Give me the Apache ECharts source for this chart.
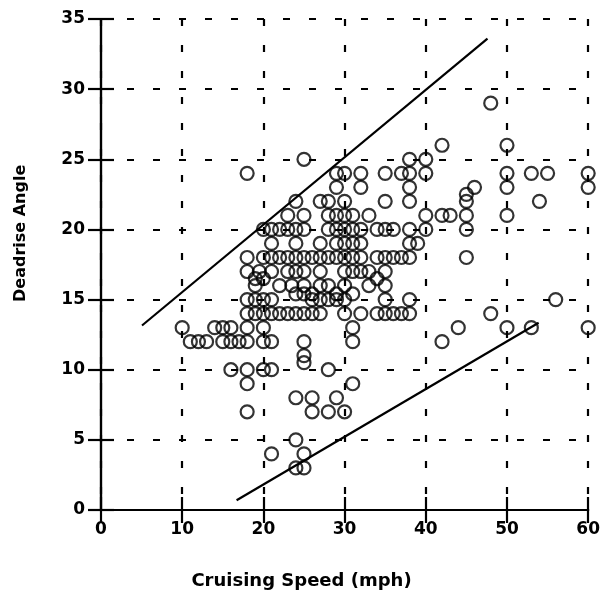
<!DOCTYPE html>
<html>
<head>
<meta charset="utf-8">
<script src="https://cdn.jsdelivr.net/npm/echarts@6/dist/echarts.min.js"></script>
<style>
html,body{margin:0;padding:0;background:#fff;}
#chart{width:603px;height:597px;}
</style>
</head>
<body>
<div id="chart"></div>
<script>
// Tick labels
const xTicks = [0, 10, 20, 30, 40, 50, 60];
const yTicks = [0, 5, 10, 15, 20, 25, 30, 35];

// Observations grouped by deadrise angle (deg): cruising speeds (mph)
const angles = [29, 26, 25, 24, 23, 22.5, 22, 21, 20, 19, 18, 17, 16.5, 16, 15.4, 15, 14, 13, 12, 11, 10.5, 10, 9, 8, 7, 5, 4, 3];
const speedsByAngle = [
  [48],
  [42, 50],
  [25, 38, 40],
  [18, 29, 30, 32, 35, 37, 38, 40, 50, 53, 55, 60],
  [29, 32, 38, 46, 50, 60],
  [45],
  [24, 27, 28, 30, 35, 38, 45, 54],
  [23, 25, 28, 29, 30, 31, 33, 40, 42, 43, 45, 50],
  [20, 21, 22, 23, 24, 25, 28, 29, 30, 31, 32, 34, 35, 36, 38, 40, 45],
  [21, 24, 27, 29, 30, 31, 32, 38, 39],
  [18, 20, 21, 22, 23, 24, 25, 26, 27, 28, 29, 30, 31, 32, 34, 35, 36, 37, 38, 45],
  [18, 19.5, 21, 23, 24, 25, 27, 30, 31, 32, 33, 35],
  [19, 20, 34],
  [19, 22, 23.5, 25, 27, 28, 30, 33, 35],
  [24, 25, 26, 29, 31],
  [18, 19, 20, 21, 26, 27, 28, 29, 30, 35, 38, 56],
  [18, 19, 20, 21, 22, 23, 24, 25, 26, 27, 30, 32, 34, 35, 36, 37, 38, 48],
  [10, 14, 15, 16, 18, 20, 31, 44, 50, 53, 60],
  [11, 12, 13, 15, 16, 17, 18, 20, 21, 25, 31, 42],
  [25],
  [25],
  [16, 18, 20, 21, 28],
  [18, 31],
  [24, 26, 29],
  [18, 26, 28, 30],
  [24],
  [21, 25],
  [24, 25]
];

// Envelope lines (speed, angle) endpoints
const upperLine = [[5.05, 13.15], [47.6, 33.6]];
const lowerLine = [[16.7, 0.7], [53.9, 13.35]];

const points = [];
angles.forEach((a, i) => speedsByAngle[i].forEach(s => points.push([s, a])));

const font = 'DejaVu Sans';
const lw = 2.2;
const chart = echarts.init(document.getElementById('chart'), null, {renderer: 'canvas'});
chart.setOption({
  animation: false,
  backgroundColor: '#fff',
  grid: {left: 101, right: 11, top: 19, bottom: 87, containLabel: false},
  xAxis: [{
    type: 'value', min: xTicks[0], max: xTicks[xTicks.length - 1], interval: 10,
    axisLine: {show: true, lineStyle: {color: '#000', width: lw}},
    axisTick: {show: true, inside: true, length: 13, lineStyle: {color: '#000', width: lw}},
    axisLabel: {color: '#000', fontFamily: font, fontWeight: 'bold', fontSize: 17, margin: 11},
    splitLine: {show: true, lineStyle: {color: '#000', width: lw, type: [7, 19]}}
  }, {
    type: 'value', position: 'top', min: 0, max: 60, interval: 10,
    axisLine: {show: true, lineStyle: {color: '#000', width: lw}},
    axisTick: {show: true, inside: true, length: 13, lineStyle: {color: '#000', width: lw}},
    axisLabel: {show: false}, splitLine: {show: false}
  }],
  yAxis: [{
    type: 'value', min: yTicks[0], max: yTicks[yTicks.length - 1], interval: 5,
    axisLine: {show: true, lineStyle: {color: '#000', width: lw}},
    axisTick: {show: true, inside: true, length: 13, lineStyle: {color: '#000', width: lw}},
    axisLabel: {color: '#000', fontFamily: font, fontWeight: 'bold', fontSize: 17, margin: 16},
    splitLine: {show: true, lineStyle: {color: '#000', width: lw, type: [7, 19]}}
  }, {
    type: 'value', position: 'right', min: 0, max: 35, interval: 5,
    axisLine: {show: true, lineStyle: {color: '#000', width: lw}},
    axisTick: {show: true, inside: true, length: 13, lineStyle: {color: '#000', width: lw}},
    axisLabel: {show: false}, splitLine: {show: false}
  }],
  graphic: [
    {type: 'text', left: 'center', top: 572, x: -3,
     style: {text: 'Cruising Speed (mph)', font: 'bold 18px "DejaVu Sans"', fill: '#000'}},
    {type: 'text', x: 13, y: 302, rotation: Math.PI / 2,
     style: {text: 'Deadrise Angle', font: 'bold 16px "DejaVu Sans"', fill: '#000'}}
  ],
  series: [
    {type: 'scatter', data: points, symbol: 'circle', symbolSize: 13,
     itemStyle: {color: 'rgba(0,0,0,0)', borderColor: '#000', borderWidth: lw}},
    {type: 'line', data: upperLine, symbol: 'none', lineStyle: {color: '#000', width: lw}},
    {type: 'line', data: lowerLine, symbol: 'none', lineStyle: {color: '#000', width: lw}}
  ]
});
</script>
</body>
</html>
